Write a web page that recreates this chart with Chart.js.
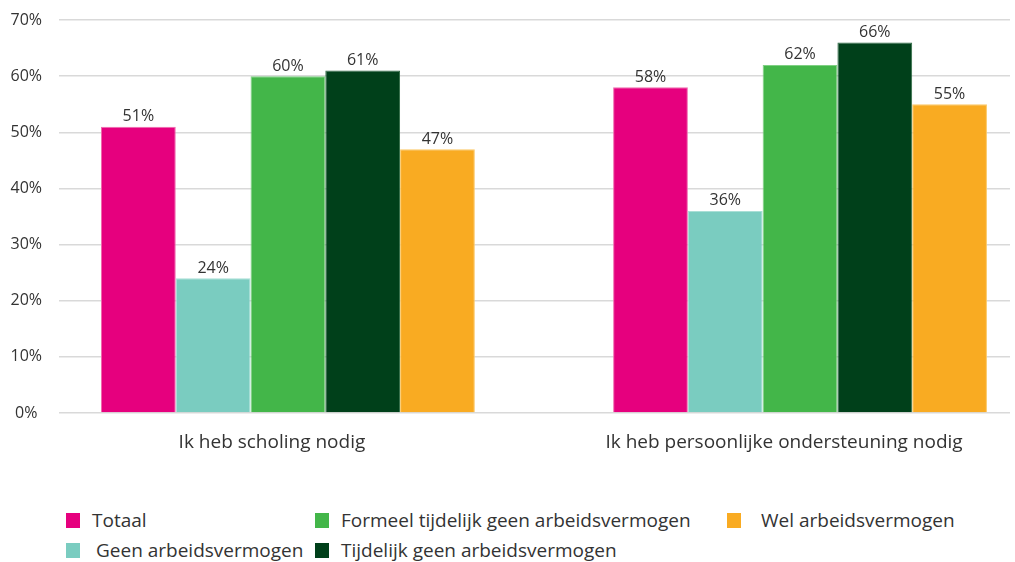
<!DOCTYPE html>
<html lang="nl">
<head>
<meta charset="utf-8">
<script src="https://cdn.jsdelivr.net/npm/chart.js@4/dist/chart.umd.min.js"></script>
<style>
  html, body { margin: 0; padding: 0; background: #fff; }
  body { width: 1015px; height: 562px; overflow: hidden; font-family: "Open Sans", sans-serif; color: #333; }
  #wrap { position: relative; width: 1015px; height: 470px; }
  #legend { position: relative; height: 92px; font-size: 19px; }
  .item { position: absolute; display: flex; align-items: center; white-space: nowrap; line-height: 24px; }
  .swatch { width: 14px; height: 15px; display: inline-block; }
</style>
</head>
<body>
<div id="wrap"><canvas id="chart" width="1015" height="470"></canvas></div>
<div id="legend"></div>
<script>
// Share of respondents per group, per statement (percent)
var categories = ['Ik heb scholing nodig', 'Ik heb persoonlijke ondersteuning nodig'];
var seriesNames = [
  'Totaal',
  'Geen arbeidsvermogen',
  'Formeel tijdelijk geen arbeidsvermogen',
  'Tijdelijk geen arbeidsvermogen',
  'Wel arbeidsvermogen'
];
var totaal = [51, 58];
var geen = [24, 36];
var formeel = [60, 62];
var tijdelijk = [61, 66];
var wel = [47, 55];
var yTicks = [0, 10, 20, 30, 40, 50, 60, 70];

var colors = ['#e6007e', '#7accc0', '#43b649', '#00401a', '#f9ab22'];
var borders = ['#f06aae', '#a9dfd6', '#7fd083', '#2f6b45', '#fbc866'];
// legend layout: column-major, 3 columns x 2 rows
var legendSlots = [
  { left: 66, top: 38, gap: 12 },
  { left: 66, top: 68, gap: 16 },
  { left: 315, top: 38, gap: 12 },
  { left: 315, top: 68, gap: 12 },
  { left: 727, top: 38, gap: 20 }
];

var values = [totaal, geen, formeel, tijdelijk, wel];

var datasets = values.map(function (vals, i) {
  return {
    label: seriesNames[i],
    data: vals.map(function (v, j) { return { x: j, y: v }; }),
    backgroundColor: colors[i],
    borderColor: borders[i],
    borderWidth: 1,
    categoryPercentage: 0.73,
    barPercentage: 1
  };
});

// value labels above each bar
var barLabels = {
  id: 'barLabels',
  afterDatasetsDraw: function (chart) {
    var ctx = chart.ctx;
    ctx.save();
    ctx.font = '16px "Open Sans", sans-serif';
    ctx.fillStyle = '#333';
    ctx.textAlign = 'center';
    ctx.textBaseline = 'bottom';
    chart.data.datasets.forEach(function (ds, i) {
      chart.getDatasetMeta(i).data.forEach(function (bar, j) {
        ctx.fillText(ds.data[j].y + '%', bar.x, bar.y - 2);
      });
    });
    ctx.restore();
  }
};

Chart.defaults.font.family = '"Open Sans", sans-serif';
Chart.defaults.color = '#333';

new Chart(document.getElementById('chart'), {
  type: 'bar',
  data: { datasets: datasets },
  options: {
    responsive: false,
    animation: false,
    layout: { padding: { top: 20, right: 5, left: 0, bottom: 0 } },
    plugins: { legend: { display: false }, tooltip: { enabled: false } },
    scales: {
      x: {
        type: 'linear',
        offset: false,
        min: -0.447,
        max: 1.41,
        grid: { display: false },
        border: { display: false },
        afterBuildTicks: function (axis) {
          axis.ticks = categories.map(function (c, i) { return { value: i }; });
        },
        afterFit: function (axis) { axis.height = 57; },
        ticks: {
          padding: 10,
          labelOffset: -16,
          font: { size: 19 },
          color: '#333',
          maxRotation: 0,
          callback: function (v) { return categories[v]; }
        }
      },
      y: {
        min: 0,
        max: 70,
        afterBuildTicks: function (axis) {
          axis.ticks = yTicks.map(function (v) { return { value: v }; });
        },
        afterFit: function (axis) {
          axis.width = 59;
          axis.paddingTop = 0;
          axis.paddingBottom = 0;
        },
        grid: { color: '#d9d9d9', lineWidth: 1.5, drawTicks: false },
        border: { display: false },
        ticks: {
          crossAlign: 'center',
          padding: 17,
          font: { size: 16 },
          color: '#333',
          callback: function (v) { return v + '%'; }
        }
      }
    }
  },
  plugins: [barLabels]
});

// legend below the plot
var legend = document.getElementById('legend');
seriesNames.forEach(function (name, i) {
  var slot = legendSlots[i];
  var item = document.createElement('div');
  item.className = 'item';
  item.style.left = slot.left + 'px';
  item.style.top = slot.top + 'px';
  var sw = document.createElement('span');
  sw.className = 'swatch';
  sw.style.background = colors[i];
  sw.style.marginRight = slot.gap + 'px';
  var txt = document.createElement('span');
  txt.textContent = name;
  item.appendChild(sw);
  item.appendChild(txt);
  legend.appendChild(item);
});
</script>
</body>
</html>
